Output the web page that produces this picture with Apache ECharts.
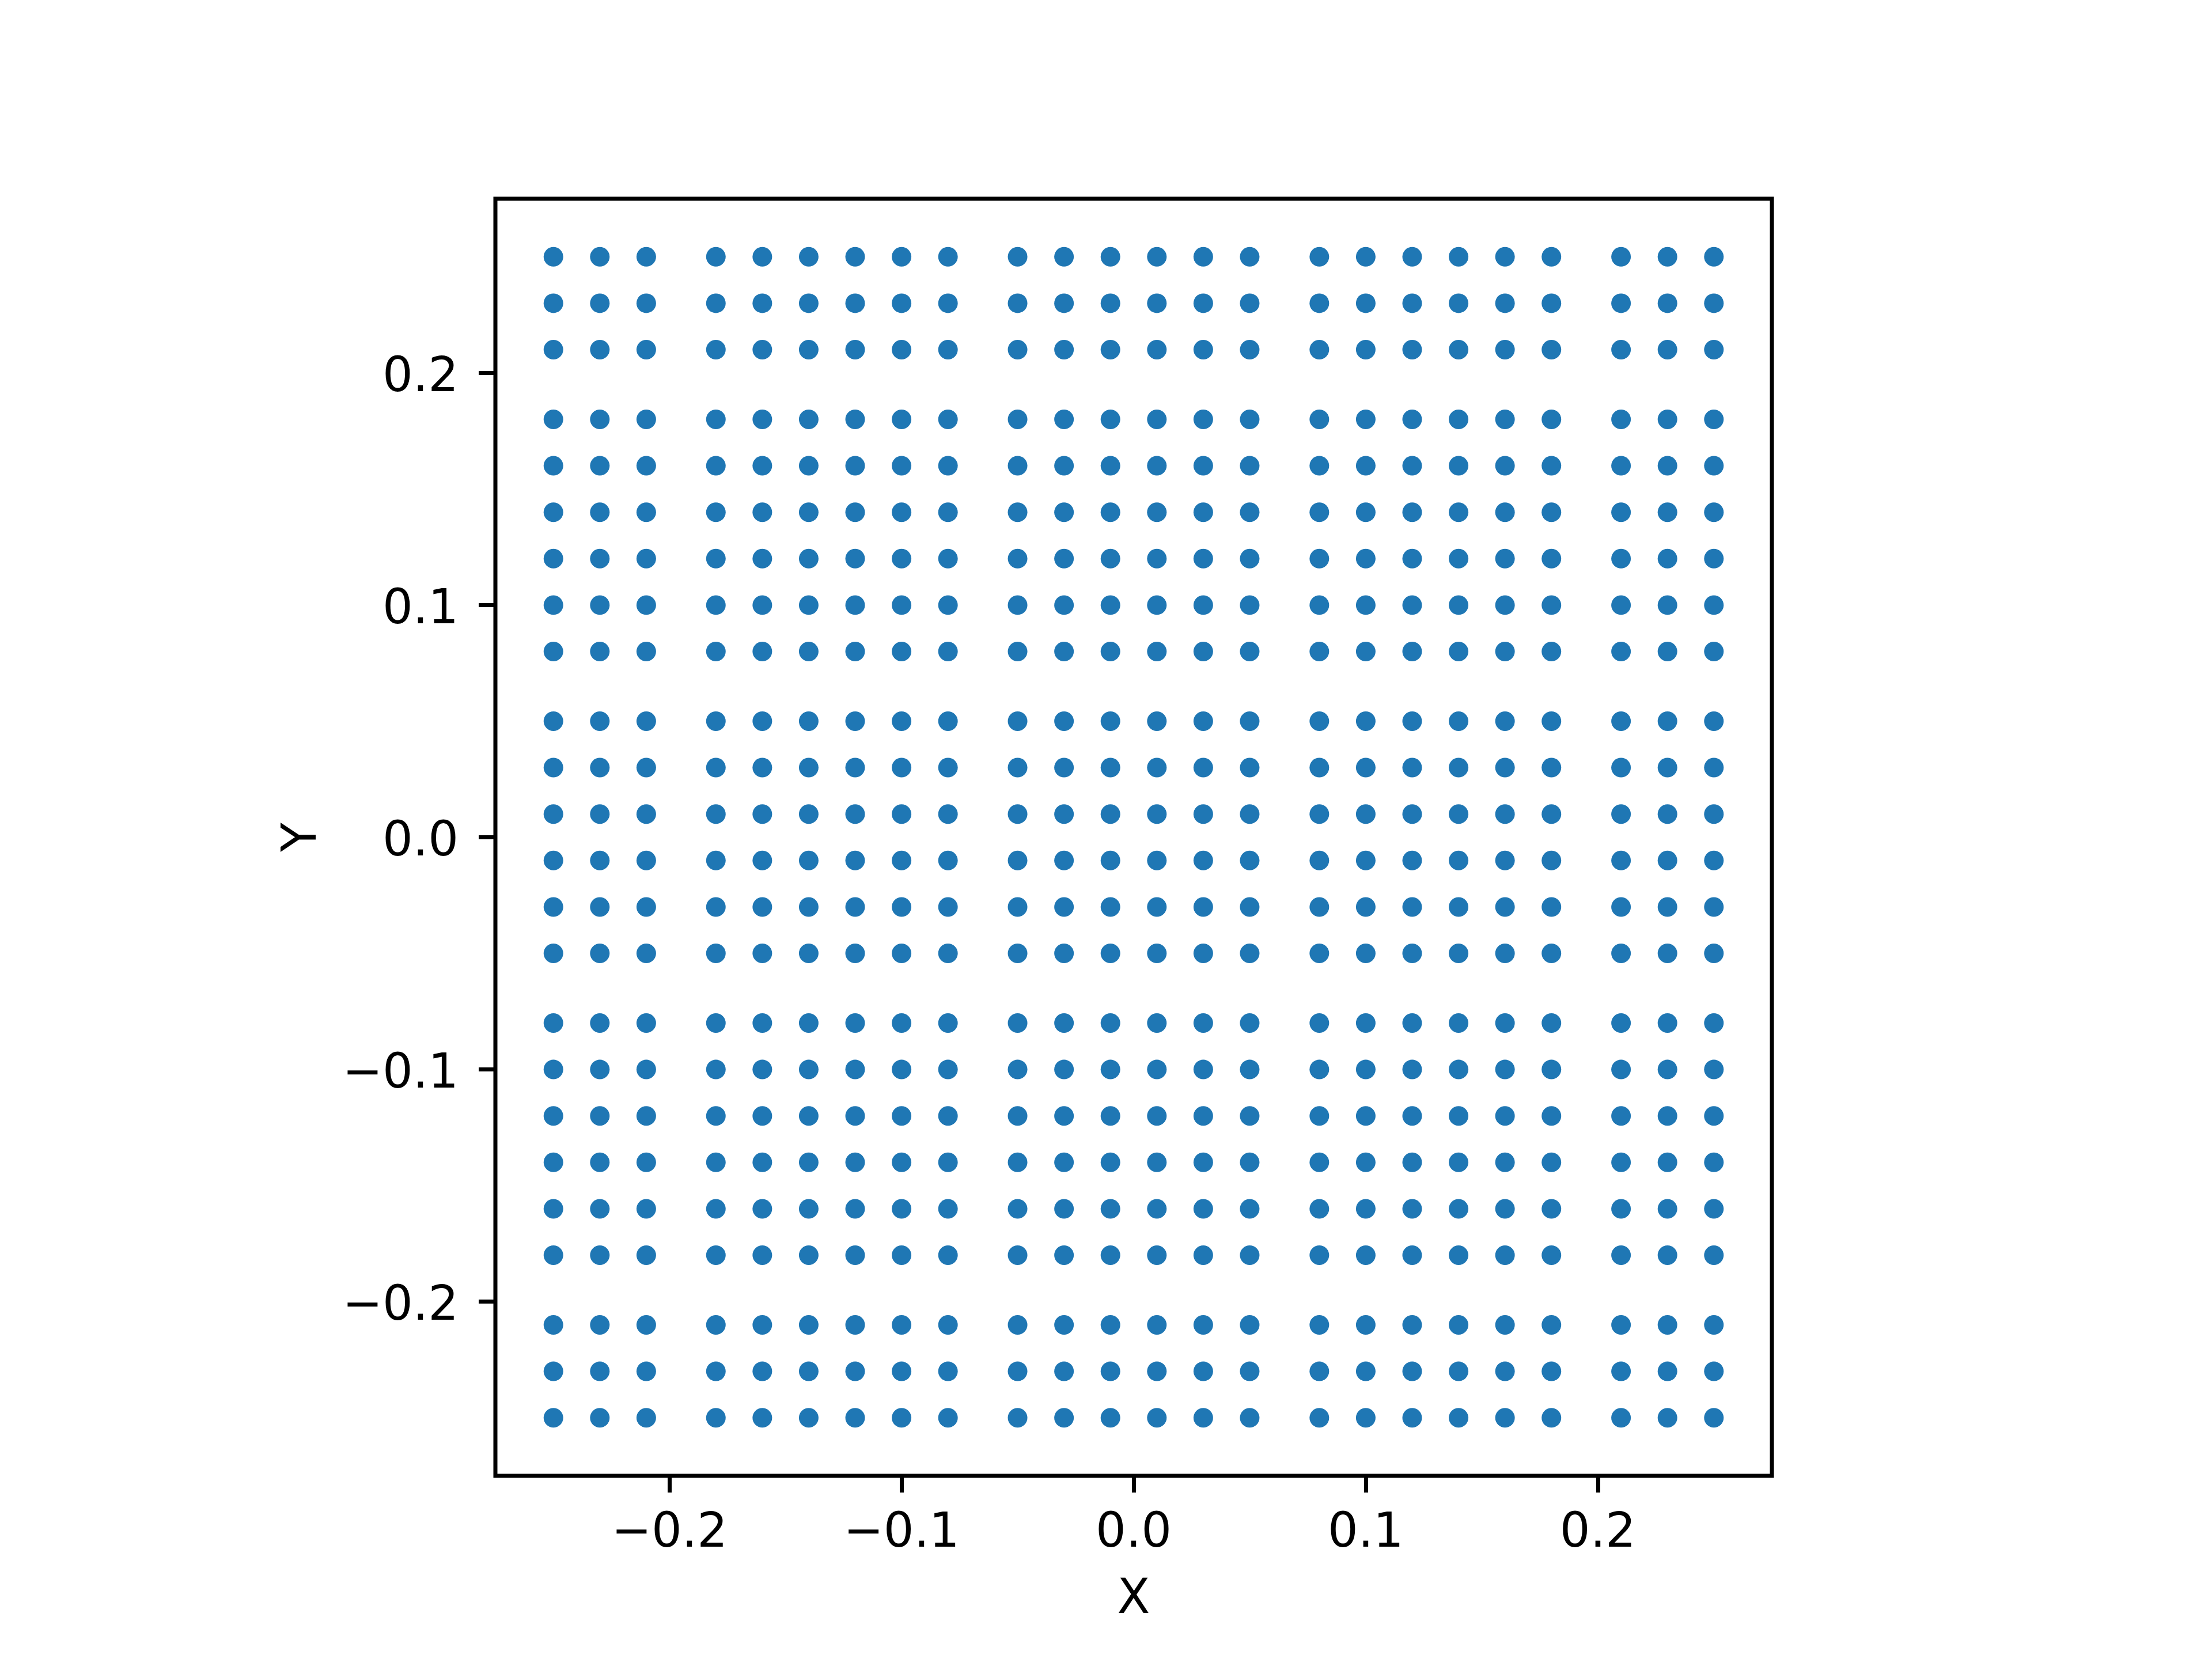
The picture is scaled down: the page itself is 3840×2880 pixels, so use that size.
<!DOCTYPE html>
<html>
<head>
<meta charset="utf-8">
<script src="https://cdn.jsdelivr.net/npm/echarts@6/dist/echarts.min.js"></script>
<style>
  html, body { margin: 0; padding: 0; background: #fff; }
  #chart { width: 3840px; height: 2880px; }
</style>
</head>
<body>
<div id="chart"></div>
<script>
// grid positions
var xValues = [-0.25, -0.23, -0.21, -0.18, -0.16, -0.14, -0.12, -0.10, -0.08,
  -0.05, -0.03, -0.01, 0.01, 0.03, 0.05, 0.08, 0.10, 0.12, 0.14, 0.16, 0.18,
  0.21, 0.23, 0.25];
var yValues = [-0.25, -0.23, -0.21, -0.18, -0.16, -0.14, -0.12, -0.10, -0.08,
  -0.05, -0.03, -0.01, 0.01, 0.03, 0.05, 0.08, 0.10, 0.12, 0.14, 0.16, 0.18,
  0.21, 0.23, 0.25];
var xTicks = [-0.2, -0.1, 0.0, 0.1, 0.2];
var yTicks = [-0.2, -0.1, 0.0, 0.1, 0.2];

var points = [];
xValues.forEach(function (x) {
  yValues.forEach(function (y) {
    points.push([x, y]);
  });
});

function fmt(v) {
  var s = Math.abs(v).toFixed(1);
  return v < -1e-9 ? "\u2212" + s : s;
}

var font = "DejaVu Sans";
var chart = echarts.init(document.getElementById("chart"));
var option = {
  animation: false,
  backgroundColor: "#fff",
  grid: {
    left: 860,
    right: 764,
    top: 345,
    bottom: 318,
    show: true,
    borderColor: "#000",
    borderWidth: 7,
    backgroundColor: "transparent",
  },
  xAxis: {
    type: "value",
    min: -0.275,
    max: 0.275,
    name: "X",
    nameLocation: "middle",
    nameGap: 175,
    nameTextStyle: { fontFamily: font, fontSize: 83, color: "#000" },
    axisLine: { show: false, onZero: false },
    splitLine: { show: false },
    axisTick: {
      show: true,
      customValues: xTicks,
      length: 29,
      lineStyle: { color: "#000", width: 7 },
    },
    axisLabel: {
      customValues: xTicks,
      formatter: fmt,
      margin: 60,
      fontFamily: font,
      fontSize: 83,
      color: "#000",
    },
  },
  yAxis: {
    type: "value",
    min: -0.275,
    max: 0.275,
    name: "Y",
    nameLocation: "middle",
    nameGap: 292,
    nameRotate: 90,
    nameTextStyle: { fontFamily: font, fontSize: 83, color: "#000" },
    axisLine: { show: false, onZero: false },
    splitLine: { show: false },
    axisTick: {
      show: true,
      customValues: yTicks,
      length: 29,
      lineStyle: { color: "#000", width: 7 },
    },
    axisLabel: {
      customValues: yTicks,
      formatter: function (v) {
        return "{t|" + fmt(v) + "}";
      },
      margin: 64,
      rich: {
        t: {
          fontFamily: font,
          fontSize: 83,
          color: "#000",
          padding: [20, 0, 0, 0],
        },
      },
    },
  },
  series: [
    {
      type: "scatter",
      data: points,
      symbol: "circle",
      symbolSize: 34,
      itemStyle: { color: "#1f77b4", opacity: 1 },
    },
  ],
};
chart.setOption(option);
</script>
</body>
</html>
